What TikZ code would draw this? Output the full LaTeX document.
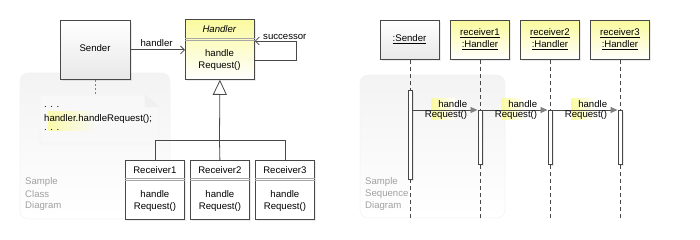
\documentclass[tikz,border=0pt]{standalone}
\usepackage{fontspec}
\setmainfont{Liberation Sans}
\usetikzlibrary{arrows.meta,shadows}
\definecolor{ln}{HTML}{484848}
\definecolor{hy}{HTML}{FAFA9E}
\definecolor{gtop}{HTML}{FFFFFF}
\definecolor{gbot}{HTML}{E8E8E8}
\definecolor{panelc}{HTML}{F3F3F3}
\definecolor{notec}{HTML}{F8F8F8}
\definecolor{captc}{HTML}{A0A0A0}
\begin{document}
\begin{tikzpicture}[x=1pt,y=-1pt,font=\fontsize{9.6}{11.5}\selectfont,
  shad/.style={drop shadow={shadow xshift=2pt,shadow yshift=-2pt,opacity=0.08,fill=black}},
  box/.style={draw=ln,line width=0.8pt,anchor=north west,inner sep=0pt,shad},
  graybox/.style={box,top color=gtop,bottom color=gbot},
  yelbox/.style={box,top color=hy,bottom color=white},
  whitebox/.style={box,fill=white},
  sep/.style={draw=gray!70,line width=0.5pt},
  txt/.style={inner sep=0pt,align=center},
  assoc/.style={draw=ln,line width=0.8pt,-{Straight Barb[length=4pt,width=8pt]}},
  inh/.style={draw=ln,line width=0.8pt,-{Triangle[length=15pt,width=14pt,fill=white]}},
  gen/.style={draw=ln,line width=0.8pt},
  life/.style={draw=ln,line width=0.8pt,dash pattern=on 4pt off 3pt},
  act/.style={draw=ln,line width=0.8pt,fill=white,anchor=north west,inner sep=0pt,minimum width=4pt,shad},
  msg/.style={draw=ln,line width=0.8pt,-{Triangle[length=7pt,width=6pt,fill=gray,color=gray]}},
  panel/.style={draw=gray!9,line width=0.6pt,rounded corners=8pt,top color=panelc,bottom color=white},
  capt/.style={inner sep=0pt,anchor=west,text=captc},
  hl/.style={left color=hy,right color=white,draw=none}]
\useasboundingbox (0,0) rectangle (700,240);
% ---------------- class diagram ----------------
\path[panel] (20,73) rectangle (170,219);
\node[capt] (c1) at (25,182) {Sample};
\node[capt] (c2) at (25,194) {Class};
\node[capt] (c3) at (25,206) {Diagram};

\node[graybox,minimum width=70pt,minimum height=59pt] (sender) at (60,20) {};
\node[txt] (sendert) at (95,48) {Sender};

\node[yelbox,minimum width=69pt,minimum height=60pt] (handler) at (185,19) {};
\node[txt] (handlert) at (219.5,29) {\textit{Handler}};
\draw[sep] (handler.west |- 0,38) -- (handler.east |- 0,38);
\draw[sep] (handler.west |- 0,40) -- (handler.east |- 0,40);
\node[txt] (handlerb) at (219.5,60) {handle\\Request()};

% note
\coordinate (note) at (99.5,95);
\path[fill=notec,draw=gray!12] (40,95) -- (145,95) -- (159,107) -- (159,144) -- (40,144) -- cycle;
\path[fill=gray!12,draw=gray!12] (145,95) -- (145,107) -- (159,107) -- cycle;
\path[hl,left color=hy!85,right color=notec] (48,112) rectangle (96,131);
\node[inner sep=0pt,anchor=west] (n1) at (44,107) {. . .};
\node[inner sep=0pt,anchor=west] (n2) at (44,119) {handler.handleRequest();};
\node[inner sep=0pt,anchor=west] (n3) at (44,130) {. . .};
\draw[draw=gray,line width=0.6pt,dash pattern=on 2pt off 2pt] (sender.south) -- (sender.south |- note);

% association
\draw[assoc] (sender.east) -- (handler.west |- sender.east)
  node[pos=1,anchor=south east,inner sep=0pt,xshift=-12pt,yshift=2.5pt] (hl1) {handler};
% self association
\coordinate (la) at (296,60);
\coordinate (lb) at (296,41);
\draw[assoc] (handler.east |- la) -- (la) -- (lb) -- (handler.east |- lb)
  node[pos=1,anchor=south west,inner sep=0pt,xshift=8pt,yshift=1.5pt] (sl) {successor};

% receivers
\foreach \i/\x in {1/125,2/190,3/255}{
  \node[whitebox,minimum width=59pt,minimum height=59pt] (r\i) at (\x,160) {};
  \node[txt] (r\i t) at (r\i.north |- 0,170) {Receiver\i};
  \draw[sep] (r\i.west |- 0,178) -- (r\i.east |- 0,178);
  \draw[sep] (r\i.west |- 0,180) -- (r\i.east |- 0,180);
  \node[txt] (r\i b) at (r\i.north |- 0,201) {handle\\Request()};
}
\coordinate (bus) at (219.5,140);
\draw[inh] (bus) -- (handler.south);
\draw[gen] (r1.north) -- (r1.north |- bus) -- (r3.north |- bus) -- (r3.north);
\draw[gen] (r2.north) -- (bus);

% ---------------- sequence diagram ----------------
\path[panel] (360,75) rectangle (505,218);
\node[capt] (s1) at (365,182) {Sample};
\node[capt] (s2) at (365,194) {Sequence};
\node[capt] (s3) at (365,206) {Diagram};

\node[graybox,minimum width=59pt,minimum height=39pt] (ss) at (380,20) {};
\node[txt] (sst) at (409.5,39) {\underline{:Sender}};
\foreach \i/\x in {1/450,2/520,3/590}{
  \node[yelbox,minimum width=59pt,minimum height=39pt] (h\i) at (\x,20) {};
  \node[txt] (h\i a) at (h\i.north |- 0,33) {\underline{receiver\i}};
  \node[txt] (h\i b) at (h\i.north |- 0,45) {\underline{:Handler}};
}
\foreach \n in {ss,h1,h2,h3}{
  \coordinate (\n end) at (\n.south |- 0,218);
  \draw[life] (\n.south) -- (\n end);
}
\node[act,minimum height=89pt] (sa) at (407.5,90) {};
\foreach \i/\x in {1/477.5,2/547.5,3/617.5}{
  \node[act,minimum height=54pt] (a\i) at (\x,110) {};
}
% highlights and labels
\foreach \i/\x in {1/467,2/537,3/607}{
  \path[hl] (\x-36,99) rectangle (\x-12,120);
}
\draw[msg] (sa.east |- a1.north) -- (a1.north west)
  node[pos=1,anchor=south east,inner sep=0pt,xshift=-10pt,yshift=2.5pt] (m1a) {handle}
  node[pos=1,anchor=north east,inner sep=0pt,xshift=-10pt,yshift=-0.5pt] (m1b) {Request()};
\draw[msg] (a1.north east) -- (a2.north west)
  node[pos=1,anchor=south east,inner sep=0pt,xshift=-10pt,yshift=2.5pt] (m2a) {handle}
  node[pos=1,anchor=north east,inner sep=0pt,xshift=-10pt,yshift=-0.5pt] (m2b) {Request()};
\draw[msg] (a2.north east) -- (a3.north west)
  node[pos=1,anchor=south east,inner sep=0pt,xshift=-10pt,yshift=2.5pt] (m3a) {handle}
  node[pos=1,anchor=north east,inner sep=0pt,xshift=-10pt,yshift=-0.5pt] (m3b) {Request()};
\end{tikzpicture}
\end{document}
